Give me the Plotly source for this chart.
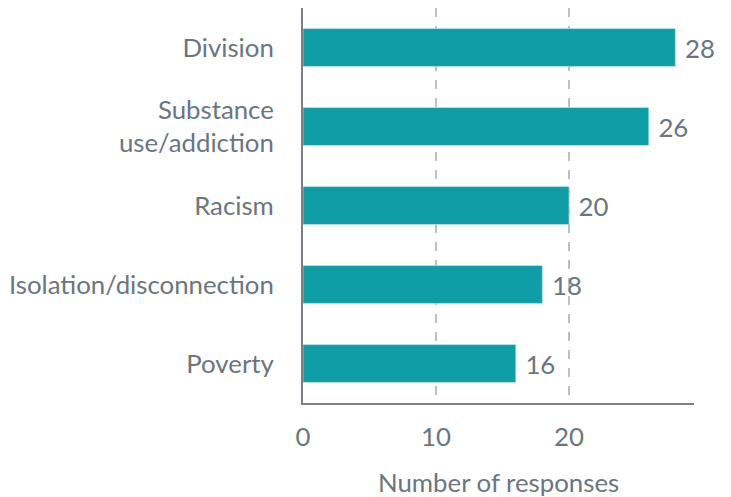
import plotly.graph_objects as go

categories = ["Division", "Substance<br>use/addiction", "Racism", "Isolation/disconnection", "Poverty"]
values = [28, 26, 20, 18, 16]
x_title = "Number of responses"

TEXT = "#6b7580"
FS = 25.8
fig = go.Figure(go.Bar(
    y=categories, x=values, orientation="h",
    marker_color="#0F9EA5",
    text=[" " + str(v) for v in values], textposition="outside",
    textfont=dict(size=FS, color=TEXT, family="Lato"),
    cliponaxis=False,
))
fig.update_layout(
    width=731, height=497,
    margin=dict(l=303, r=37, t=8, b=94, autoexpand=False),
    plot_bgcolor="white", paper_bgcolor="white",
    font=dict(family="Lato", size=FS, color=TEXT),
    bargap=0.52,
    showlegend=False,
    xaxis=dict(range=[0, 29.4], tickvals=[0, 10, 20], showgrid=True,
               gridcolor="#c0c0c0", griddash="dash", gridwidth=1.5,
               showline=True, linecolor="#7a7f85", linewidth=2,
               zeroline=False, ticks="", ticklabelstandoff=10, automargin=False),
    yaxis=dict(autorange="reversed", showline=True, linecolor="#7a7f85",
               linewidth=2, showgrid=False, ticks="", ticklabelstandoff=22,
               automargin=False,
               categoryorder="array", categoryarray=categories),
    annotations=[dict(text=x_title, xref="paper", yref="paper", x=0.5, y=0,
                      xanchor="center", yanchor="middle", yshift=-79,
                      showarrow=False, font=dict(size=FS, color=TEXT))],
)
fig.write_html("out.html", config={"displayModeBar": False},
               post_script="document.body.style.margin='0';document.body.style.overflow='hidden';")
